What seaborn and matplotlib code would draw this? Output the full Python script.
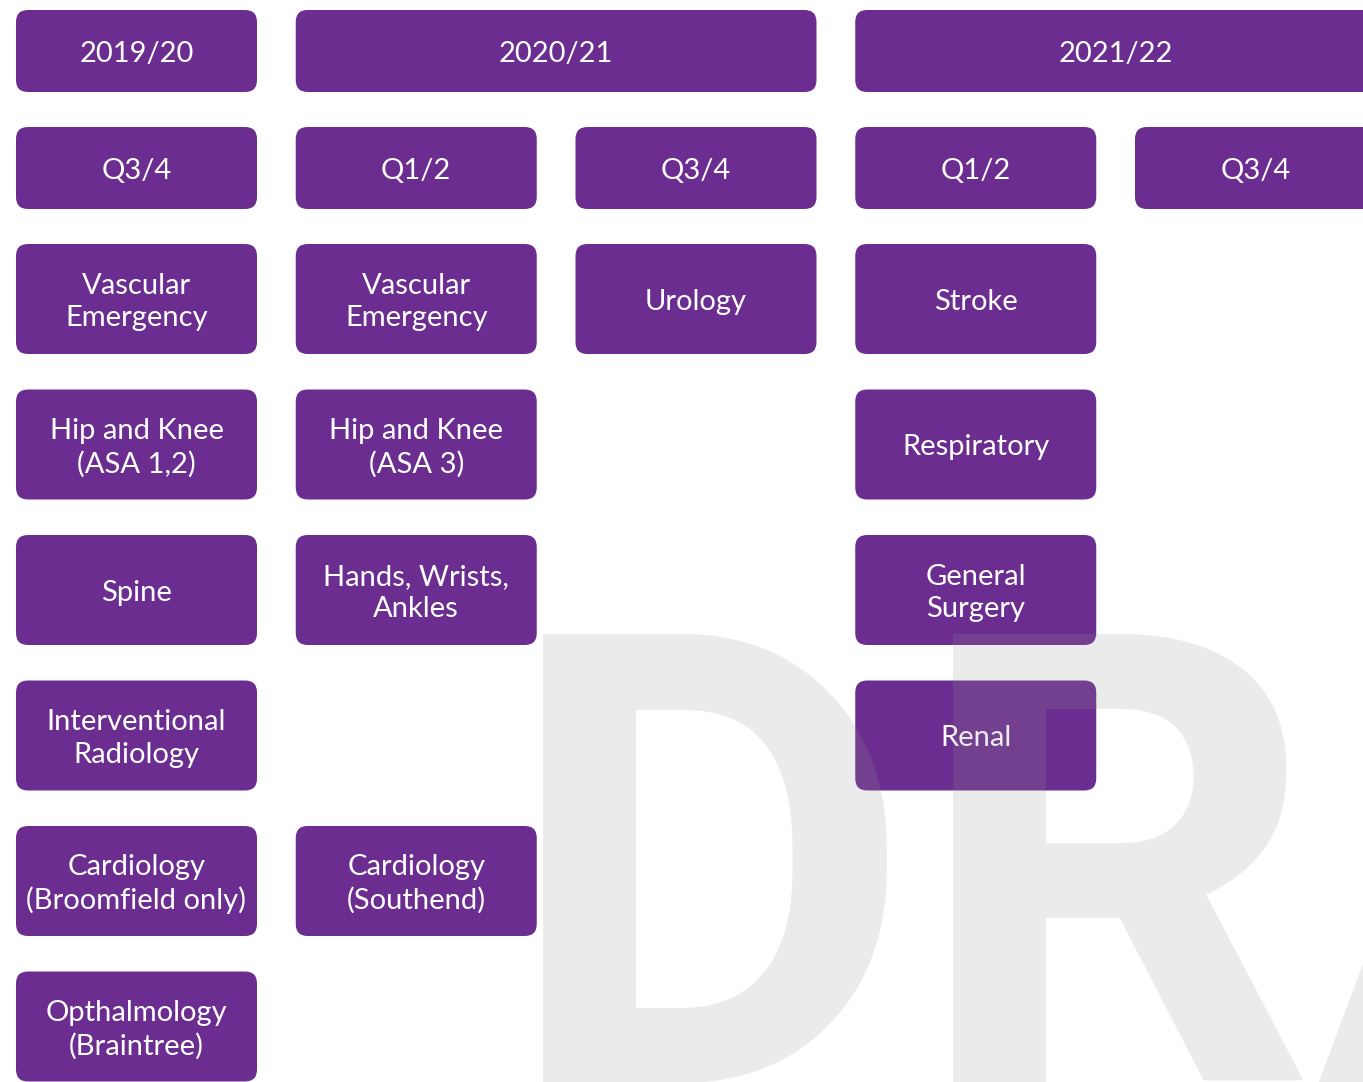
import matplotlib
matplotlib.use("Agg")
import matplotlib.pyplot as plt
from matplotlib.patches import FancyBboxPatch
import pandas as pd
import seaborn as sns

# financial years and the half-year columns under each
periods = ["2019/20", "2020/21", "2021/22"]
period_cols = [[0], [1, 2], [3, 4]]
halves = ["Q3/4", "Q1/2", "Q3/4", "Q1/2", "Q3/4"]

# services going live in each half-year (None = empty slot)
col_1920_q34 = ["Vascular\nEmergency", "Hip and Knee\n(ASA 1,2)", "Spine",
                "Interventional\nRadiology", "Cardiology\n(Broomfield only)",
                "Opthalmology\n(Braintree)"]
col_2021_q12 = ["Vascular\nEmergency", "Hip and Knee\n(ASA 3)", "Hands, Wrists,\nAnkles",
                None, "Cardiology\n(Southend)"]
col_2021_q34 = ["Urology"]
col_2122_q12 = ["Stroke", "Respiratory", "General\nSurgery", "Renal"]
col_2122_q34 = []
columns = [col_1920_q34, col_2021_q12, col_2021_q34, col_2122_q12, col_2122_q34]

PURPLE = "#6b2d8f"
W, H = 1363, 1082

# layout in pixel units
col_x0, col_step, col_w = 16, 279.75, 241
row_tops = [10, 127]
head_h = 82
svc_top, svc_step, svc_h = 244, 145.5, 110

rows = []
for label, cols in zip(periods, period_cols):
    x0 = col_x0 + cols[0] * col_step
    x1 = col_x0 + cols[-1] * col_step + col_w
    rows.append(dict(label=label, x=x0, y=row_tops[0], w=x1 - x0, h=head_h))
for i, label in enumerate(halves):
    rows.append(dict(label=label, x=col_x0 + i * col_step, y=row_tops[1], w=col_w, h=head_h))
for i, items in enumerate(columns):
    for j, label in enumerate(items):
        if label is None:
            continue
        rows.append(dict(label=label, x=col_x0 + i * col_step, y=svc_top + j * svc_step,
                         w=col_w, h=svc_h))
boxes = pd.DataFrame(rows)

sns.set_theme(style="white")
plt.rcParams["font.family"] = ["Lato", "DejaVu Sans"]

fig = plt.figure(figsize=(W / 100, H / 100), dpi=100)
ax = fig.add_axes([0, 0, 1, 1])
ax.set_xlim(0, W)
ax.set_ylim(H, 0)
ax.axis("off")

for _, b in boxes.iterrows():
    ax.add_patch(FancyBboxPatch((b.x, b.y), b.w, b.h,
                                boxstyle="round,pad=0,rounding_size=12",
                                facecolor=PURPLE, edgecolor="none", zorder=2))
    ax.text(b.x + b.w / 2, b.y + b.h / 2 + 3, b.label, color="white", fontsize=21,
            ha="center", va="center", linespacing=1.32, zorder=3)

# faint watermark across the lower right
ax.text(503, 1083, "DRAFT", fontsize=455, fontweight="bold", family="Roboto",
        color=(0.59, 0.59, 0.59), alpha=0.19, ha="left", va="baseline", zorder=4)

fig.savefig("out.png", dpi=100)
